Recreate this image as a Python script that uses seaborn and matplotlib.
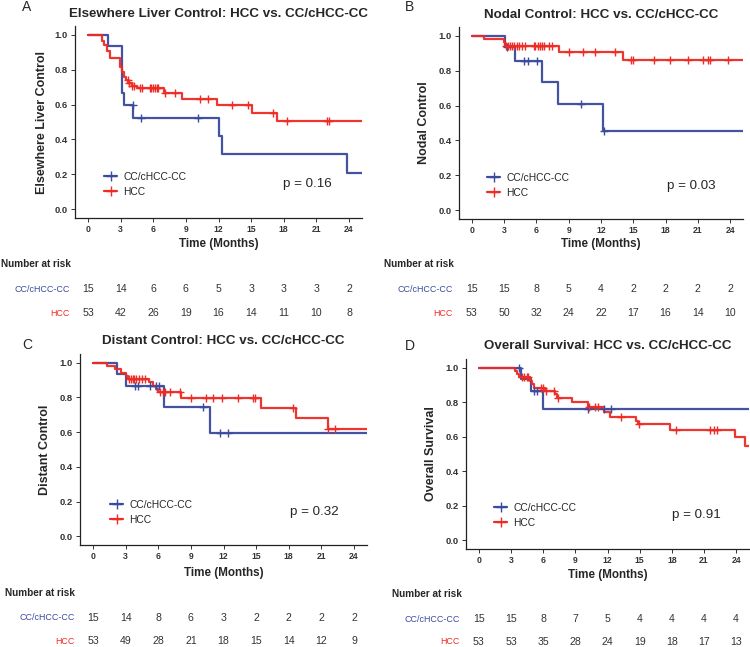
import numpy as np
import pandas as pd
import matplotlib
matplotlib.use("Agg")
import matplotlib.pyplot as plt
import matplotlib.transforms as mtransforms
from matplotlib.lines import Line2D
import seaborn as sns

# ---------------- data ----------------
groups = ["CC/cHCC-CC", "HCC"]
time_breaks = [0, 3, 6, 9, 12, 15, 18, 21, 24]

titles = ["Elsewhere Liver Control: HCC vs. CC/cHCC-CC",
          "Nodal Control: HCC vs. CC/cHCC-CC",
          "Distant Control: HCC vs. CC/cHCC-CC",
          "Overall Survival: HCC vs. CC/cHCC-CC"]
ylabels = ["Elsewhere Liver Control", "Nodal Control", "Distant Control", "Overall Survival"]
pvalues = ["p = 0.16", "p = 0.03", "p = 0.32", "p = 0.91"]
panel_letters = ["A", "B", "C", "D"]

# Panel A
A_cc_t = [0, 1.8, 3.1, 3.3, 4.15, 12.03, 12.28, 23.8, 25.5]
A_cc_s = [1.0, 0.933, 0.667, 0.600, 0.524, 0.419, 0.314, 0.210, 0.210]
A_cc_cens = [4.14, 4.91, 10.13]
A_hcc_t = [0, 1.26, 1.47, 1.71, 2.0, 2.94, 3.1, 3.3, 3.5, 3.7, 4.0, 4.47, 6.95, 8.6, 11.9, 15.1, 17.4, 25.5]
A_hcc_s = [1.0, 0.962, 0.943, 0.905, 0.868, 0.817, 0.789, 0.760, 0.741, 0.722, 0.708, 0.694,
           0.666, 0.633, 0.597, 0.553, 0.507, 0.507]
A_hcc_cens = [3.65, 3.8, 4.0, 4.2, 4.78, 5.0, 5.7, 5.83, 6.0, 6.16, 6.3, 6.47, 7.06, 7.98,
              10.28, 11.05, 13.26, 14.73, 16.97, 18.32, 21.95, 22.16]
A_risk_cc = [15, 14, 6, 6, 5, 3, 3, 3, 2]
A_risk_hcc = [53, 42, 26, 19, 16, 14, 11, 10, 8]

# Panel B
B_cc_t = [0, 3.03, 4.03, 6.5, 8.0, 12.14, 25.5]
B_cc_s = [1.0, 0.933, 0.855, 0.733, 0.610, 0.457, 0.457]
B_cc_cens = [3.3, 4.8, 5.2, 6.04, 10.13, 12.3]
B_hcc_t = [0, 1.08, 2.94, 3.05, 8.05, 14.0, 25.5]
B_hcc_s = [1.0, 0.981, 0.962, 0.943, 0.907, 0.863, 0.863]
B_hcc_cens = [3.16, 3.34, 3.5, 3.72, 3.87, 4.18, 4.4, 4.65, 4.89, 5.73, 5.88, 6.1, 6.32, 6.5,
              6.72, 7.12, 7.43, 9.04, 10.37, 11.46, 13.32, 14.8, 14.93, 16.97, 18.43, 20.13,
              21.52, 21.99, 22.14, 23.78]
B_risk_cc = [15, 15, 8, 5, 4, 2, 2, 2, 2]
B_risk_hcc = [53, 50, 32, 24, 22, 17, 16, 14, 10]

# Panel C
C_cc_t = [0, 2.2, 3.0, 6.54, 10.74, 25.5]
C_cc_s = [1.0, 0.933, 0.867, 0.743, 0.595, 0.595]
C_cc_cens = [3.9, 4.1, 5.2, 5.8, 6.1, 10.13, 11.66, 12.37]
C_hcc_t = [0, 1.29, 2.0, 2.6, 3.07, 3.25, 5.16, 5.5, 5.8, 6.0, 8.07, 15.44, 18.66, 21.58, 25.5]
C_hcc_s = [1.0, 0.981, 0.962, 0.943, 0.925, 0.906, 0.886, 0.866, 0.848, 0.831, 0.794,
           0.740, 0.683, 0.620, 0.620]
C_hcc_cens = [3.35, 3.5, 3.65, 3.8, 3.95, 4.2, 4.5, 4.8, 6.14, 6.45, 6.6, 7.06, 7.98, 9.0,
              10.37, 11.05, 11.88, 13.35, 14.73, 14.89, 18.42, 21.64, 22.25]
C_risk_cc = [15, 14, 8, 6, 3, 2, 2, 2, 2]
C_risk_hcc = [53, 49, 28, 21, 18, 15, 14, 12, 9]

# Panel D
D_cc_t = [0, 3.9, 4.86, 5.95, 25.5]
D_cc_s = [1.0, 0.933, 0.867, 0.758, 0.758]
D_cc_cens = [3.74, 5.1, 5.4, 10.16, 11.72, 12.3]
D_hcc_t = [0, 3.37, 3.55, 3.7, 4.77, 4.95, 5.17, 6.2, 7.1, 7.3, 8.73, 10.22, 11.72, 12.25,
           14.7, 14.85, 17.86, 23.94, 24.8, 25.5]
D_hcc_s = [1.0, 0.981, 0.962, 0.943, 0.924, 0.905, 0.885, 0.865, 0.845, 0.826, 0.801, 0.773,
           0.745, 0.712, 0.692, 0.673, 0.640, 0.597, 0.548, 0.548]
D_hcc_cens = [4.0, 4.2, 4.45, 4.6, 5.8, 5.95, 6.25, 7.0, 7.4, 10.3, 10.8, 11.1, 13.28, 14.9,
              18.39, 21.54, 21.95, 22.23]
D_risk_cc = [15, 15, 8, 7, 5, 4, 4, 4, 4]
D_risk_hcc = [53, 53, 35, 28, 24, 19, 18, 17, 13]

panels = [
    (A_cc_t, A_cc_s, A_cc_cens, A_hcc_t, A_hcc_s, A_hcc_cens, A_risk_cc, A_risk_hcc),
    (B_cc_t, B_cc_s, B_cc_cens, B_hcc_t, B_hcc_s, B_hcc_cens, B_risk_cc, B_risk_hcc),
    (C_cc_t, C_cc_s, C_cc_cens, C_hcc_t, C_hcc_s, C_hcc_cens, C_risk_cc, C_risk_hcc),
    (D_cc_t, D_cc_s, D_cc_cens, D_hcc_t, D_hcc_s, D_hcc_cens, D_risk_cc, D_risk_hcc),
]

# ---------------- style ----------------
sns.set_style("ticks")
plt.rcParams['font.family'] = ['Liberation Sans', 'DejaVu Sans']

BLUE = "#3A4A9C"
RED = "#EE2B25"
colors = [BLUE, RED]

W, H = 750, 647
fig = plt.figure(figsize=(W / 100, H / 100), dpi=100)


def fx(x):
    return x / W


def fy(y):
    return 1 - y / H


# axes boxes in pixels: left, top, right, bottom
boxes = [(75, 26, 362, 218), (459, 27, 743, 219), (80, 354, 367, 545), (466, 359, 749, 549)]
# per panel layout extras (pixel positions)
letter_pos = [(27, 7), (409, 7), (27, 345), (410, 346)]
title_y = [14, 15, 341, 346]
xlabel_y = [244, 244, 573, 575]
ylabel_right = [48, 430, 51, 437]
nar_pos = [(1, 264), (384, 264), (5, 593), (392, 594)]
row_label_x = [70, 453, 75, 460]
row_y = [(289, 313), (289, 313), (618, 641), (619, 642)]
legend_pos = [(104, 172), (487, 173), (110, 500), (494, 503)]
p_pos = [(283, 184), (667, 186), (290, 512), (672, 515)]


def step_value(ts, ss, t):
    idx = np.searchsorted(np.asarray(ts), t, side='right') - 1
    return np.asarray(ss)[idx]


for i, (cc_t, cc_s, cc_c, h_t, h_s, h_c, r_cc, r_h) in enumerate(panels):
    l, t, r, b = boxes[i]
    ax = fig.add_axes([fx(l), fy(b), (r - l) / W, (b - t) / H])
    series = [(cc_t, cc_s, cc_c), (h_t, h_s, h_c)]
    for g, (ts, ss, cs) in enumerate(series):
        df = pd.DataFrame({"time": ts, "surv": ss})
        sns.lineplot(data=df, x="time", y="surv", drawstyle="steps-post", color=colors[g],
                     linewidth=1.6, ax=ax, estimator=None, sort=False, alpha=0.95)
        cdf = pd.DataFrame({"time": cs, "surv": [step_value(ts, ss, c) for c in cs]})
        sns.scatterplot(data=cdf, x="time", y="surv", marker="+", s=34, color=colors[g],
                        linewidth=1.0, ax=ax, zorder=3)
    ax.set_xlim(-1.2, 25.2)
    ax.set_ylim(-0.05, 1.05)
    ax.set_xticks(time_breaks)
    ax.set_yticks([0, 0.2, 0.4, 0.6, 0.8, 1.0])
    ax.set_yticklabels(["0.0", "0.2", "0.4", "0.6", "0.8", "1.0"])
    for lab in ax.get_xticklabels():
        lab.set_fontweight("bold")
        lab.set_fontsize(6.2)
        lab.set_color("#333333")
    for lab in ax.get_yticklabels():
        lab.set_fontweight("bold")
        lab.set_fontsize(6.8)
        lab.set_color("#333333")
    ax.tick_params(axis="both", length=3, width=0.7, color="#333333", pad=2)
    for side in ["top", "right"]:
        ax.spines[side].set_visible(False)
    for side in ["left", "bottom"]:
        ax.spines[side].set_linewidth(0.9)
        ax.spines[side].set_color("#222222")
    ax.set_xlabel("")
    ax.set_ylabel(ylabels[i], fontsize=9.0, fontweight="bold")
    ax.yaxis.set_label_coords((ylabel_right[i] - l) / (r - l), 0.5)

    cx = (l + r) / 2
    fig.text(fx(cx), fy(title_y[i]), titles[i], ha="center", va="center",
             fontsize=9.6, fontweight="bold")
    fig.text(fx(letter_pos[i][0]), fy(letter_pos[i][1]), panel_letters[i], ha="center",
             va="center", fontsize=10)
    fig.text(fx(cx), fy(xlabel_y[i]), "Time (Months)", ha="center", va="center",
             fontsize=8.4, fontweight="bold")

    # legend
    handles = [Line2D([0], [0], color=c, lw=1.6, marker="+", markersize=6.5, markeredgewidth=1.0)
               for c in colors]
    ax.legend(handles, groups, loc="upper left",
              bbox_to_anchor=(fx(legend_pos[i][0]), fy(legend_pos[i][1])),
              bbox_transform=fig.transFigure, frameon=False, fontsize=7.4,
              handlelength=1.3, handletextpad=0.6, labelspacing=0.45, borderpad=0,
              borderaxespad=0)
    fig.text(fx(p_pos[i][0]), fy(p_pos[i][1]), pvalues[i], ha="left", va="center",
             fontsize=9.6)

    # risk table
    fig.text(fx(nar_pos[i][0]), fy(nar_pos[i][1]), "Number at risk", ha="left",
             va="center", fontsize=7.2, fontweight="bold")
    trans = mtransforms.blended_transform_factory(ax.transData, fig.transFigure)
    for g, vals in enumerate([r_cc, r_h]):
        yy = fy(row_y[i][g])
        fig.text(fx(row_label_x[i]), yy, groups[g], ha="right", va="center",
                 fontsize=6.4, color=colors[g])
        for tb, v in zip(time_breaks, vals):
            ax.text(tb, yy, str(v), transform=trans, ha="center", va="center",
                    fontsize=7.6, color="#333333", clip_on=False)

fig.savefig("out.png", dpi=100)
